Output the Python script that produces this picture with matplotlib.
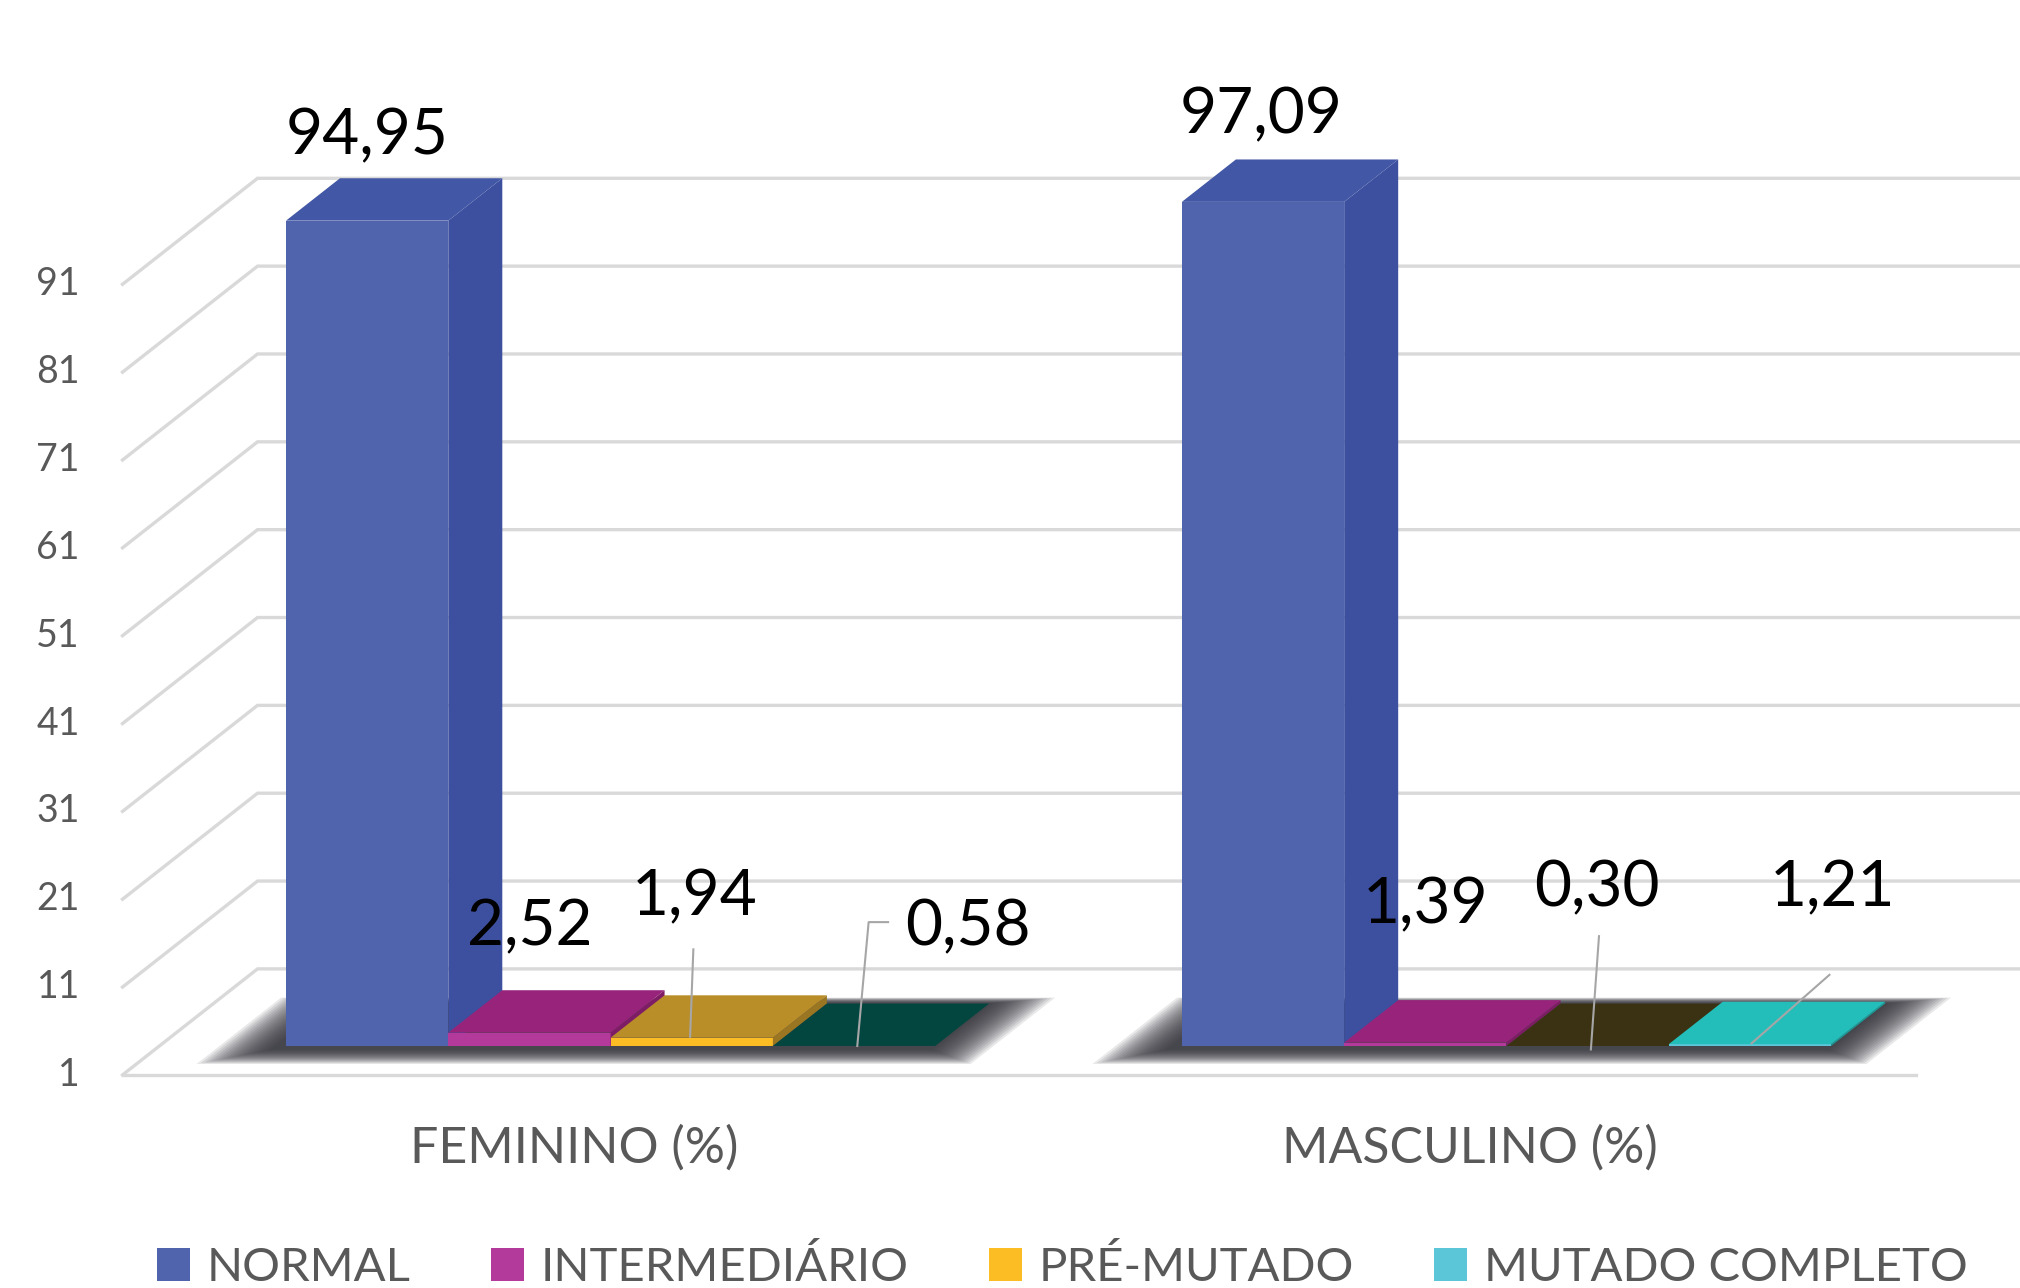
import numpy as np
import matplotlib.pyplot as plt
from matplotlib.patches import Polygon, Patch

# data
categories = ["FEMININO (%)", "MASCULINO (%)"]
series = ["NORMAL", "INTERMEDIÁRIO", "PRÉ-MUTADO", "MUTADO COMPLETO"]
feminino = [94.95, 2.52, 1.94, 0.58]
masculino = [97.09, 1.39, 0.30, 1.21]
y_ticks = [1, 11, 21, 31, 41, 51, 61, 71, 81, 91]

# colours (front face = legend colour, top/side faces as Excel shades them)
front_colors = ["#5064AE", "#B3399A", "#FBBC24", "#5BC6D8"]
top_colors = [["#4257A5", "#97237A", "#B98D28", "#03463F"],
              ["#4257A5", "#97237A", "#3B3214", "#24BEBA"]]
side_colors = [["#3D4F9F", "#7E1D66", "#9A7622", "#03463F"],
               ["#3D4F9F", "#7E1D66", "#3B3214", "#1C9A97"]]
grid_color = "#D9D9D9"
text_gray = "#595959"

# pseudo 3D geometry (data units)
BASE = 1.0           # axis minimum
GROUP_X = [0.0, 5.52]
DX, DY = 0.832, 12.07  # full floor depth
T_BAR = 0.273          # depth of bar front plane
BAR_D = 0.40           # bar depth
WALL_X = -0.78
FLOOR_END = 10.27


def proj(x, v, t):
    return x + (t - T_BAR) * DX, v + (t - T_BAR) * DY


plt.rcParams["font.family"] = ["Lato", "DejaVu Sans"]

fig = plt.figure(figsize=(20.2, 12.88), dpi=100)
ax = fig.add_axes([0, 0, 1, 1])
ax.set_xlim(-1.762, 10.684)
ax.set_ylim(-26.55, 120.07)
ax.axis("off")

# walls / gridlines
for v in y_ticks:
    x0, y0 = proj(WALL_X, v, 0)
    x1, y1 = proj(WALL_X, v, 1)
    ax.plot([x0, x1, 12], [y0, y1, y1], color=grid_color, lw=2.4, zorder=1,
            solid_joinstyle="miter")
    ax.text(-1.27, y0, str(v), ha="right", va="center", fontsize=27,
            color=text_gray)
fx0, fy0 = proj(WALL_X, BASE, 0)
fx1, _ = proj(FLOOR_END, BASE, 0)
ax.plot([fx0, fx1], [fy0, fy0], color=grid_color, lw=2.4, zorder=1)

# blurred shadows under each group
for g, gx in enumerate(GROUP_X):
    n = 18
    for k in range(n):
        e = 0.36 * (1 - k / n)
        et = 0.14 * (1 - k / n)
        pts = [proj(gx - e - 0.05, BASE, T_BAR - et - 0.03),
               proj(gx + 4 + e, BASE, T_BAR - et - 0.03),
               proj(gx + 4 + e, BASE, T_BAR + BAR_D + et * 0.4),
               proj(gx - e - 0.05, BASE, T_BAR + BAR_D + et * 0.4)]
        ax.add_patch(Polygon(pts, closed=True, facecolor="#2B2B33",
                             edgecolor="none", alpha=0.10, zorder=2))

# bars
groups = [feminino, masculino]
for g, (gx, vals) in enumerate(zip(GROUP_X, groups)):
    for i, v in enumerate(vals):
        x = gx + i
        top = max(v, BASE)
        if top > BASE:
            ax.bar(x + 0.5, top - BASE, width=1.0, bottom=BASE,
                   color=front_colors[i], edgecolor="none", zorder=3)
        side = [proj(x + 1, BASE, T_BAR), proj(x + 1, top, T_BAR),
                proj(x + 1, top, T_BAR + BAR_D), proj(x + 1, BASE, T_BAR + BAR_D)]
        ax.add_patch(Polygon(side, closed=True, facecolor=side_colors[g][i],
                             edgecolor="none", zorder=3))
        cap = [proj(x, top, T_BAR), proj(x + 1, top, T_BAR),
               proj(x + 1, top, T_BAR + BAR_D), proj(x, top, T_BAR + BAR_D)]
        ax.add_patch(Polygon(cap, closed=True, facecolor=top_colors[g][i],
                             edgecolor="none", zorder=3))

# data labels: (dx from bar centre, label y)
label_pos = [[(0.0, 104.5), (0.0, 14.5), (0.02, 17.9), (0.70, 14.5)],
             [(-0.01, 107.0), (0.0, 17.0), (0.06, 18.9), (0.51, 18.9)]]
leaders = {(0, 2): [(0.01, 12.0), (-0.01, 2.05)],
           (0, 3): [(0.21, 15.1), (0.09, 15.1), (0.02, 1.0)],
           (1, 2): [(0.07, 13.5), (0.02, 0.6)],
           (1, 3): [(0.49, 9.1), (0.01, 1.3)]}
for g, (gx, vals) in enumerate(zip(GROUP_X, groups)):
    for i, v in enumerate(vals):
        cx = gx + i + 0.5
        dx, ly = label_pos[g][i]
        ax.text(cx + dx, ly, f"{v:.2f}".replace(".", ","), ha="center",
                va="center", fontsize=46, color="black", zorder=10)
        if (g, i) in leaders:
            pts = leaders[(g, i)]
            ax.plot([cx + p[0] for p in pts], [p[1] for p in pts],
                    color="#A6A6A6", lw=1.5, zorder=9)

# category labels
for gx, cat in zip(GROUP_X, categories):
    lx, ly = proj(gx + 2, BASE, 0)
    ax.text(lx, -10.7, cat, ha="center", va="center", fontsize=36,
            color=text_gray)

handles = [Patch(facecolor=c, edgecolor="none") for c in front_colors]
fig.legend(handles, series, loc="center", bbox_to_anchor=(0.526, 0.016),
           ncol=4, frameon=False, fontsize=34, handlelength=0.7,
           handleheight=0.7, columnspacing=1.7, handletextpad=0.35,
           labelcolor=text_gray)

fig.savefig("out.png", dpi=100)
